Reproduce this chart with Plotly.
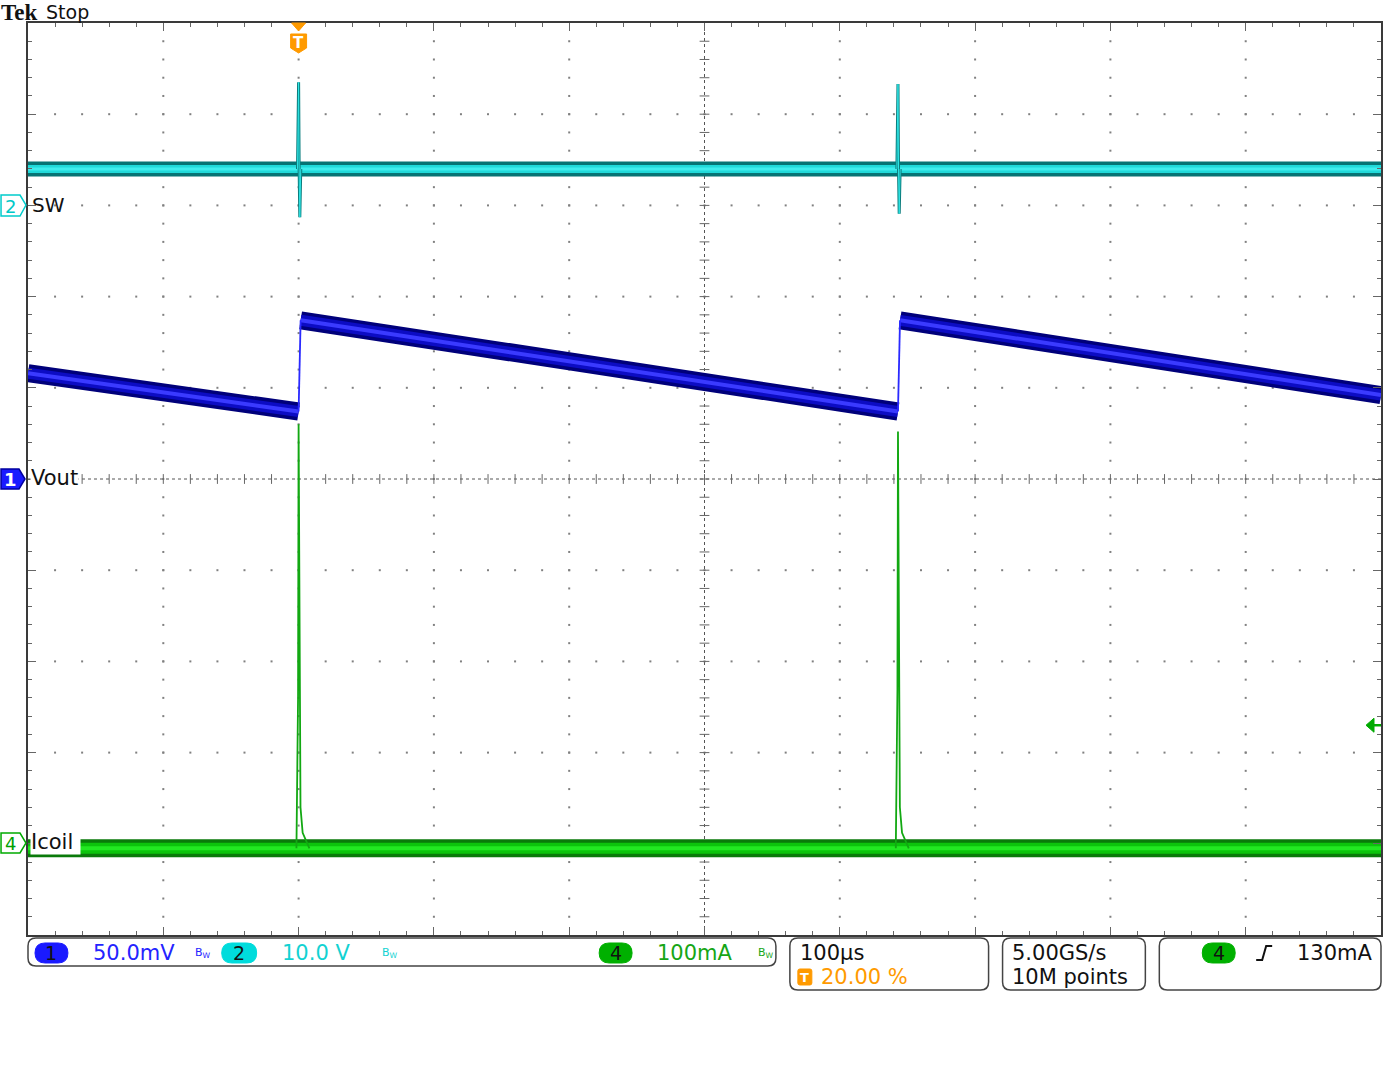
import numpy as np
import plotly.graph_objects as go

time_range_us = [-200, 800]          # 100 us/div, trigger at 20 %
pulse_t_us = [0, 443]

# Ch1 Vout (mV, AC) 50 mV/div, marker at 0 div
vout_t_us = [-200, 0, 1.5, 443, 444.5, 800]
vout_mv = [58, 37, 87, 37, 87, 46]

# Ch2 SW (V) 10 V/div, marker at +3 div
sw_base_v = 4.0
sw_spike_dt_us = [-0.8, -0.3, 0.0, 0.4, 0.9, 1.6]
sw_spike_v = [[4.0, 9.0, 13.5, 4.0, -1.3, 4.0],
              [4.0, 9.0, 13.3, 4.0, -0.9, 4.0]]

# Ch4 Icoil (mA) 100 mA/div, marker at -4 div
icoil_base_ma = -5
icoil_spike_dt_us = [-1.6, -0.9, -0.4, 0.0, 0.7, 1.4, 3.0, 8.0]
icoil_spike_ma = [[-5, 140, 160, 460, 250, 40, 12, -5],
                  [-5, 150, 170, 452, 250, 40, 12, -5]]

ch1_scale, ch1_off = 50.0, 0.0
ch2_scale, ch2_off = 10.0, 3.0
ch4_scale, ch4_off = 100.0, -4.0
trig_level_ma = 130

# ---------------- geometry ----------------
W, H = 1387, 1075
L, R, T, B = 28, 1383, 23, 935


def PX(x):
    return (x - L) / (R - L)


def PY(y):
    return (B - y) / (B - T)


def to_div(vals, scale, off):
    return [None if v is None else off + v / scale for v in vals]


fig = go.Figure()

# ---------------- graticule dots ----------------
gx, gy = [], []
for k in range(1, 10):
    t = time_range_us[0] + 100 * k
    if t == 300:
        continue
    for j in range(1, 50):
        gx.append(t)
        gy.append(-5 + 0.2 * j)
for k in range(-4, 5):
    if k == 0:
        continue
    for j in range(1, 50):
        gx.append(time_range_us[0] + 20 * j)
        gy.append(k)
fig.add_trace(go.Scatter(x=gx, y=gy, mode="markers", hoverinfo="skip",
                         marker=dict(symbol="square", size=2, color="#808080", line=dict(width=0))))
# center-line tick marks
fig.add_trace(go.Scatter(x=[time_range_us[0] + 20 * j for j in range(1, 50)], y=[0] * 49,
                         mode="markers", hoverinfo="skip",
                         marker=dict(symbol="line-ns", size=7, line=dict(width=1, color="#666666"))))
fig.add_trace(go.Scatter(x=[300] * 49, y=[-5 + 0.2 * j for j in range(1, 50)],
                         mode="markers", hoverinfo="skip",
                         marker=dict(symbol="line-ew", size=7, line=dict(width=1, color="#666666"))))

# ---------------- Ch2 SW ----------------
sw_base = to_div([sw_base_v, sw_base_v], ch2_scale, ch2_off)
for w, c in [(15, "#067474"), (8, "#20dada"), (3, "#40eeee")]:
    fig.add_trace(go.Scatter(x=time_range_us, y=sw_base, mode="lines", hoverinfo="skip",
                             line=dict(color=c, width=w)))
for p, vals in zip(pulse_t_us, sw_spike_v):
    xs = [p + d for d in sw_spike_dt_us]
    fig.add_trace(go.Scatter(x=xs, y=to_div(vals, ch2_scale, ch2_off), mode="lines",
                             hoverinfo="skip", line=dict(color="#0a7c7c", width=3)))
    fig.add_trace(go.Scatter(x=xs, y=to_div(vals, ch2_scale, ch2_off), mode="lines",
                             hoverinfo="skip", line=dict(color="#2ee6e6", width=1)))

# ---------------- Ch4 Icoil ----------------
ic_base = to_div([icoil_base_ma, icoil_base_ma], ch4_scale, ch4_off)
for w, c in [(18, "#0a7a0a"), (11, "#0cc40c"), (4, "#22e822")]:
    fig.add_trace(go.Scatter(x=time_range_us, y=ic_base, mode="lines", hoverinfo="skip",
                             line=dict(color=c, width=w)))
for p, vals in zip(pulse_t_us, icoil_spike_ma):
    xs = [p + d for d in icoil_spike_dt_us]
    fig.add_trace(go.Scatter(x=xs, y=to_div(vals, ch4_scale, ch4_off), mode="lines",
                             hoverinfo="skip", line=dict(color="#12a812", width=1.8)))

# ---------------- Ch1 Vout ----------------
ramp_x, ramp_y, edge_x, edge_y = [], [], [], []
for i in range(len(vout_t_us) - 1):
    seg_x = [vout_t_us[i], vout_t_us[i + 1]]
    seg_y = [vout_mv[i], vout_mv[i + 1]]
    if vout_mv[i + 1] > vout_mv[i]:
        edge_x += seg_x + [None]
        edge_y += seg_y + [None]
    else:
        ramp_x += seg_x + [None]
        ramp_y += seg_y + [None]
for w, c in [(18, "#00007a"), (11, "#0c0cc4"), (4, "#3a3aff")]:
    fig.add_trace(go.Scatter(x=ramp_x, y=to_div(ramp_y, ch1_scale, ch1_off), mode="lines",
                             hoverinfo="skip", line=dict(color=c, width=w)))
fig.add_trace(go.Scatter(x=edge_x, y=to_div(edge_y, ch1_scale, ch1_off), mode="lines",
                         hoverinfo="skip", line=dict(color="#2a2aff", width=1.8)))

# ---------------- shapes ----------------
shapes = []
# center lines (dotted)
shapes.append(dict(type="line", xref="x", yref="y", x0=time_range_us[0], x1=time_range_us[1], y0=0, y1=0,
                   line=dict(color="#555555", width=1, dash="dot"), layer="below"))
shapes.append(dict(type="line", xref="x", yref="y", x0=300, x1=300, y0=-5, y1=5,
                   line=dict(color="#555555", width=1, dash="dot"), layer="below"))


def rrect(x0, y0, x1, y1, r):
    def P(x, y):
        return f"{PX(x):.5f},{PY(y):.5f}"
    return (f"M {P(x0 + r, y0)} L {P(x1 - r, y0)} Q {P(x1, y0)} {P(x1, y0 + r)} "
            f"L {P(x1, y1 - r)} Q {P(x1, y1)} {P(x1 - r, y1)} L {P(x0 + r, y1)} "
            f"Q {P(x0, y1)} {P(x0, y1 - r)} L {P(x0, y0 + r)} Q {P(x0, y0)} {P(x0 + r, y0)} Z")


def poly(pts):
    return "M " + " L ".join(f"{PX(x):.5f},{PY(y):.5f}" for x, y in pts) + " Z"


def add_path(path, fill=None, line_color="#333333", lw=1.5):
    d = dict(type="path", xref="paper", yref="paper", path=path,
             line=dict(color=line_color, width=lw))
    if fill:
        d["fillcolor"] = fill
    shapes.append(d)


# bottom panels
add_path(rrect(28, 938, 777, 966, 8), line_color="#444444")
add_path(rrect(791, 938, 990, 990, 8), line_color="#444444")
add_path(rrect(1004, 938, 1147, 990, 8), line_color="#444444")
add_path(rrect(1161, 938, 1383, 990, 8), line_color="#444444")
# pills
add_path(rrect(35, 943, 68, 963, 10), fill="#1a1aff", line_color="#1a1aff", lw=1)
add_path(rrect(222, 943, 257, 963, 10), fill="#00dcdc", line_color="#00dcdc", lw=1)
add_path(rrect(600, 943, 633, 963, 10), fill="#00b000", line_color="#00b000", lw=1)
add_path(rrect(1204, 943, 1237, 963, 10), fill="#00b000", line_color="#00b000", lw=1)
# trigger-position T in the panel
add_path(rrect(799, 969, 813, 985, 2), fill="#ff9a00", line_color="#ff9a00", lw=1)
# rising edge symbol
shapes.append(dict(type="path", xref="paper", yref="paper",
                   path=f"M {PX(1258):.5f},{PY(960):.5f} L {PX(1264):.5f},{PY(960):.5f} "
                        f"L {PX(1268):.5f},{PY(946):.5f} L {PX(1274):.5f},{PY(946):.5f}",
                   line=dict(color="#111111", width=2)))
# channel markers on left
add_path(poly([(1, 195), (20, 195), (26, 205), (20, 216), (1, 216)]), fill="white", line_color="#00cccc", lw=1.5)
add_path(poly([(1, 469), (19, 469), (25, 479), (19, 489), (1, 489)]), fill="#1a1aff", line_color="#0000a0", lw=1.5)
add_path(poly([(1, 833), (20, 833), (26, 843), (20, 853), (1, 853)]), fill="white", line_color="#00aa00", lw=1.5)
# trigger marker on top
add_path(poly([(292, 23), (306, 23), (299, 31)]), fill="#ff9a00", line_color="#ff9a00", lw=1)
add_path(poly([(291, 34), (307, 34), (307, 48), (299, 53), (291, 48)]), fill="#ff9a00", line_color="#ff9a00", lw=1)
# trigger level arrow on right (130 mA on Ch4)
yl = ch4_off + trig_level_ma / ch4_scale
ylpx = B - (yl + 5) / 10 * (B - T)
add_path(poly([(1368, ylpx), (1376, ylpx - 7), (1376, ylpx + 7)]), fill="#00aa00", line_color="#00aa00", lw=1)
shapes.append(dict(type="line", xref="paper", yref="paper", x0=PX(1375), x1=PX(1383), y0=PY(ylpx), y1=PY(ylpx),
                   line=dict(color="#00aa00", width=2.5)))

# ---------------- annotations ----------------
ann = []
FONT = "DejaVu Sans"


def text(x, y, s, size=21, color="#111111", family=FONT, xanchor="left", bg=None, bold=False):
    if bold:
        s = f"<b>{s}</b>"
    d = dict(xref="paper", yref="paper", x=PX(x), y=PY(y), text=s, showarrow=False,
             xanchor=xanchor, yanchor="middle", font=dict(size=size, color=color, family=family),
             borderpad=0)
    if bg:
        d["bgcolor"] = bg
    ann.append(d)


text(0, 13, "Tek", size=23, family="Liberation Serif", bold=True)
text(45, 12, "Stop", size=19)
text(31, 205, "SW", size=20)
text(30, 478, "Vout", size=21, bg="white")
text(30, 842, "Icoil ", size=21, bg="white")
text(10.5, 206, "2", size=18, color="#00c8c8", xanchor="center")
text(10, 479, "1", size=18, color="white", xanchor="center", bold=True)
text(10.5, 843, "4", size=18, color="#00a000", xanchor="center")
text(299, 43, "T", size=15, color="white", xanchor="center", bold=True)

text(51.5, 953, "1", size=19, xanchor="center")
text(92, 953, "50.0mV", color="#2424ff")
text(194, 953, "B<sub>W</sub>", size=11, color="#2424ff")
text(239.5, 953, "2", size=19, xanchor="center")
text(281, 953, "10.0 V", color="#12d2d2")
text(382, 953, "B<sub>W</sub>", size=11, color="#12d2d2")
text(616.5, 953, "4", size=19, xanchor="center")
text(657, 953, "100mA", color="#16a616")
text(758, 953, "B<sub>W</sub>", size=11, color="#16a616")

text(800, 953, "100µs")
text(806, 977, "T", size=13, color="white", xanchor="center", bold=True)
text(821, 977, "20.00 %", color="#ff9a00")
text(1012, 953, "5.00GS/s")
text(1012, 977, "10M points")
text(1220.5, 953, "4", size=19, xanchor="center")
text(1298, 953, "130mA")

# ---------------- layout ----------------
fig.update_layout(
    width=W, height=H, autosize=False,
    margin=dict(l=L, r=W - R, t=T, b=H - B, pad=0),
    paper_bgcolor="white", plot_bgcolor="white",
    showlegend=False, shapes=shapes, annotations=ann,
    xaxis=dict(range=time_range_us, showgrid=False, zeroline=False, showticklabels=False,
               showline=True, linecolor="#3a3a3a", linewidth=2, mirror="allticks",
               ticks="inside", tick0=0, dtick=100, ticklen=8, tickcolor="#666666", tickwidth=1,
               minor=dict(ticks="inside", dtick=20, ticklen=4, tickcolor="#666666", tickwidth=1, showgrid=False),
               fixedrange=True),
    yaxis=dict(range=[-5, 5], showgrid=False, zeroline=False, showticklabels=False,
               showline=True, linecolor="#3a3a3a", linewidth=2, mirror="allticks",
               ticks="inside", tick0=0, dtick=1, ticklen=8, tickcolor="#666666", tickwidth=1,
               minor=dict(ticks="inside", dtick=0.2, ticklen=4, tickcolor="#666666", tickwidth=1, showgrid=False),
               fixedrange=True),
)

fig.write_html("out.html", config={"staticPlot": True},
               post_script="document.body.style.margin='0';document.body.style.overflow='hidden';")
